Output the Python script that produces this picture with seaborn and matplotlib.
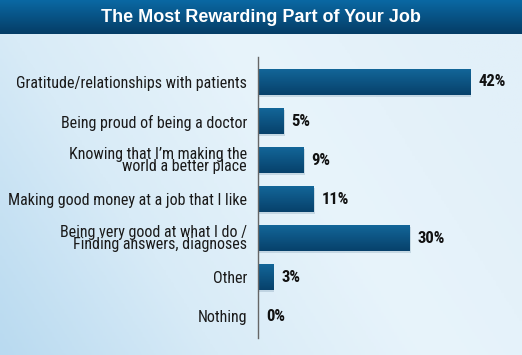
import numpy as np
import pandas as pd
import seaborn as sns
from matplotlib import pyplot as plt
from matplotlib.colors import LinearSegmentedColormap
from matplotlib.patches import Rectangle

categories = [
    "Gratitude/relationships with patients",
    "Being proud of being a doctor",
    "Knowing that I\u2019m making the\nworld a better place",
    "Making good money at a job that I like",
    "Being very good at what I do /\nFinding answers, diagnoses",
    "Other",
    "Nothing",
]
values = [42, 5, 9, 11, 30, 3, 0]
title = "The Most Rewarding Part of Your Job"

df = pd.DataFrame({"category": categories, "value": values})

sns.set_style("white")
plt.rcParams["font.family"] = ["Roboto Condensed", "DejaVu Sans"]

fig = plt.figure(figsize=(5.22, 3.55), dpi=100)

# background gradient
bg = fig.add_axes([0, 0, 1, 1], zorder=0)
bg_cmap = LinearSegmentedColormap.from_list("bg", ["#b9daf0", "#d8ebf7", "#e8f4fb", "#e2f0f9"])
xx = np.linspace(0, 1, 200)
yy = np.linspace(0, 1, 200)
grad = np.clip(xx[None, :] * 0.8 + yy[:, None] * 0.35, 0, 1)
bg.imshow(grad, cmap=bg_cmap, aspect="auto", extent=[0, 1, 0, 1], origin="lower")
bg.axis("off")

# title bar
tb = fig.add_axes([0, 1 - 34 / 355, 1, 34 / 355], zorder=1)
tb_cmap = LinearSegmentedColormap.from_list("tb", ["#053d66", "#0a68a3"])
tb.imshow(np.linspace(0, 1, 50)[:, None], cmap=tb_cmap, aspect="auto",
          extent=[0, 1, 0, 1], origin="lower")
tb.text(0.5, 0.5, title, color="white", fontsize=13, fontweight="bold",
        ha="center", va="center", family=["Liberation Sans", "DejaVu Sans"])
tb.axis("off")

ax = fig.add_axes([258 / 522, 17 / 355, 264 / 522, 281 / 355], zorder=2)
ax.patch.set_alpha(0)
sns.barplot(data=df, x="value", y="category", ax=ax, color="#0d5282",
            width=0.67, orient="h")

bar_cmap = LinearSegmentedColormap.from_list("bar", ["#13679a", "#07416b"])
for p, v in zip(ax.patches, values):
    x0, y0 = p.get_x(), p.get_y()
    w, h = p.get_width(), p.get_height()
    if w > 0:
        shadow = Rectangle((x0 + 0.25, y0 + 0.05), w, h, facecolor="#8aa6ba",
                           alpha=0.35, edgecolor="none", zorder=1)
        ax.add_patch(shadow)
        im = ax.imshow(np.linspace(0, 1, 50)[:, None], cmap=bar_cmap, aspect="auto",
                       extent=[x0, x0 + w, y0 + h, y0], origin="upper", zorder=2)
        im.set_clip_path(p)
    p.set_facecolor("none")
    p.set_edgecolor("none")
    p.set_zorder(3)
    ax.text(x0 + w + 1.6, y0 + h / 2, f"{v}%", va="center", ha="left",
            fontsize=12, fontweight="bold", color="#111111")

ax.set_xlim(0, 264 / 5.05)
ax.set_ylim(6.56, -0.64)
ax.set_xlabel("")
ax.set_ylabel("")
ax.set_xticks([])
for s in ["top", "right", "bottom"]:
    ax.spines[s].set_visible(False)
ax.spines["left"].set_color("#666666")
ax.spines["left"].set_linewidth(1.0)
ax.tick_params(axis="y", length=0, pad=8, labelsize=11.5, labelcolor="#1a1a1a")
for lab in ax.get_yticklabels():
    lab.set_linespacing(0.8)

fig.savefig("out.png", dpi=100)
